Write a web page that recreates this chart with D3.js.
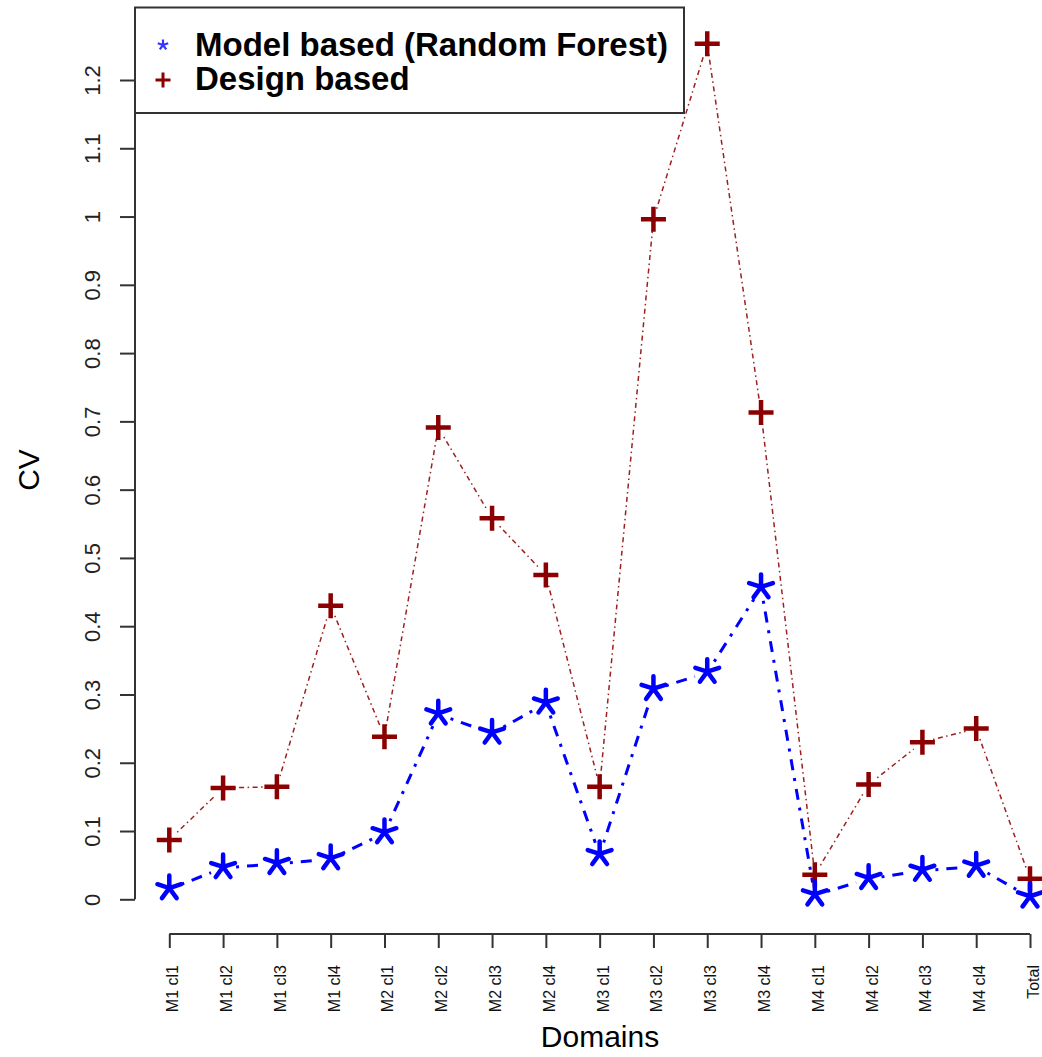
<!DOCTYPE html>
<html>
<head>
<meta charset="utf-8">
<script src="https://cdn.jsdelivr.net/npm/d3@7"></script>
<style>
  body { margin: 0; background: #fff; }
  text { font-family: "Liberation Sans", Arial, sans-serif; }
</style>
</head>
<body>
<script>
// categories on the x axis
var domains = ["M1 cl1", "M1 cl2", "M1 cl3", "M1 cl4",
               "M2 cl1", "M2 cl2", "M2 cl3", "M2 cl4",
               "M3 cl1", "M3 cl2", "M3 cl3", "M3 cl4",
               "M4 cl1", "M4 cl2", "M4 cl3", "M4 cl4", "Total"];

// CV, model based (random forest)
var modelCV = [0.015, 0.046, 0.052, 0.059,
               0.097, 0.271, 0.243, 0.287,
               0.065, 0.307, 0.332, 0.456,
               0.006, 0.030, 0.042, 0.048, 0.003];

// CV, design based
var designCV = [0.087, 0.163, 0.165, 0.430,
                0.238, 0.691, 0.558, 0.475,
                0.165, 0.996, 1.253, 0.713,
                0.036, 0.168, 0.230, 0.250, 0.030];

var yTicks = [0, 0.1, 0.2, 0.3, 0.4, 0.5, 0.6, 0.7, 0.8, 0.9, 1, 1.1, 1.2];

var w = 1042, h = 1057;

var x = d3.scalePoint()
    .domain(domains)
    .range([169.3, 1030]);

var y = d3.scaleLinear()
    .domain([0, 1.2])
    .range([899.3, 80]);

var svg = d3.select("body")
    .append("svg")
    .attr("width", w)
    .attr("height", h);

// y axis
var yAxis = svg.append("g")
    .attr("transform", "translate(135,0)")
    .call(d3.axisLeft(y).tickValues(yTicks).tickSize(15).tickPadding(0)
        .tickFormat(function (d) { return String(d); }));
yAxis.select(".domain").attr("stroke", "#333").attr("stroke-width", 2)
    .attr("d", "M0," + y(0) + "V" + y(1.2));
yAxis.selectAll(".tick line").attr("stroke", "#333").attr("stroke-width", 2);
yAxis.selectAll(".tick text")
    .attr("x", null).attr("dy", null)
    .attr("transform", "translate(-35,0) rotate(-90)")
    .attr("text-anchor", "middle")
    .attr("fill", "#222")
    .style("font-size", "22px");

// x axis
var xAxis = svg.append("g")
    .attr("transform", "translate(0,934)")
    .call(d3.axisBottom(x).tickSize(14).tickPadding(0));
xAxis.select(".domain").attr("stroke", "#333").attr("stroke-width", 2)
    .attr("d", "M" + x(domains[0]) + ",0H" + x(domains[domains.length - 1]));
xAxis.selectAll(".tick line").attr("stroke", "#333").attr("stroke-width", 2);
xAxis.selectAll(".tick text")
    .attr("y", null).attr("dy", null)
    .attr("transform", "translate(8.5,31) rotate(-90)")
    .attr("text-anchor", "end")
    .attr("fill", "#111")
    .style("font-size", "16px");

// axis titles
svg.append("text")
    .attr("transform", "translate(39,470) rotate(-90)")
    .attr("text-anchor", "middle")
    .style("font-size", "30px")
    .text("CV");

svg.append("text")
    .attr("x", 600)
    .attr("y", 1047)
    .attr("text-anchor", "middle")
    .style("font-size", "30px")
    .text("Domains");

// lines with gaps around the points (like type = "b")
function gappedSegments(values, gap) {
    var pts = values.map(function (v, i) { return [x(domains[i]), y(v)]; });
    var segs = [];
    for (var i = 0; i < pts.length - 1; i++) {
        var a = pts[i], b = pts[i + 1];
        var dx = b[0] - a[0], dy = b[1] - a[1];
        var len = Math.sqrt(dx * dx + dy * dy);
        if (len <= 2 * gap) continue;
        var ux = dx / len, uy = dy / len;
        segs.push([[a[0] + ux * gap, a[1] + uy * gap], [b[0] - ux * gap, b[1] - uy * gap]]);
    }
    return segs;
}

var line = d3.line();

svg.append("g").selectAll("path")
    .data(gappedSegments(designCV, 11))
    .enter()
    .append("path")
    .attr("d", line)
    .attr("fill", "none")
    .attr("stroke", "#9e1f1f")
    .attr("stroke-width", 1.5)
    .attr("stroke-dasharray", "1.5,3.5,5,3.5");

svg.append("g").selectAll("path")
    .data(gappedSegments(modelCV, 13))
    .enter()
    .append("path")
    .attr("d", line)
    .attr("fill", "none")
    .attr("stroke", "#0000ff")
    .attr("stroke-width", 3)
    .attr("stroke-dasharray", "3,8,11,8");

// markers
function starPath(r) {
    var p = "";
    for (var k = 0; k < 5; k++) {
        var a = (-90 + k * 72) * Math.PI / 180;
        p += "M0,0L" + (r * Math.cos(a)).toFixed(2) + "," + (r * Math.sin(a)).toFixed(2);
    }
    return p;
}
function plusPath(r) {
    return "M" + (-r) + ",0H" + r + "M0," + (-r) + "V" + r;
}

svg.append("g").selectAll("path")
    .data(designCV)
    .enter()
    .append("path")
    .attr("transform", function (d, i) { return "translate(" + x(domains[i]) + "," + y(d) + ")"; })
    .attr("d", plusPath(12.5))
    .attr("stroke", "#8b0000")
    .attr("stroke-width", 4.5);

svg.append("g").selectAll("path")
    .data(modelCV)
    .enter()
    .append("path")
    .attr("transform", function (d, i) { return "translate(" + x(domains[i]) + "," + (y(d) - 1) + ")"; })
    .attr("d", starPath(12.5))
    .attr("stroke", "#0000ff")
    .attr("stroke-width", 4.5)
    .attr("stroke-linecap", "round");

// legend
var legend = svg.append("g");
legend.append("rect")
    .attr("x", 135).attr("y", 7.5)
    .attr("width", 549).attr("height", 105.5)
    .attr("fill", "#fff")
    .attr("stroke", "#333")
    .attr("stroke-width", 2);

legend.append("path")
    .attr("transform", "translate(163,45)")
    .attr("d", starPath(5.5))
    .attr("stroke", "#3333ff")
    .attr("stroke-width", 2.2);
legend.append("path")
    .attr("transform", "translate(163,80)")
    .attr("d", plusPath(7.5))
    .attr("stroke", "#8b0000")
    .attr("stroke-width", 3);

legend.append("text")
    .attr("x", 195).attr("y", 55.5)
    .style("font-size", "33px").style("font-weight", "bold")
    .text("Model based (Random Forest)");
legend.append("text")
    .attr("x", 195).attr("y", 89.5)
    .style("font-size", "33px").style("font-weight", "bold")
    .text("Design based");
</script>
</body>
</html>
